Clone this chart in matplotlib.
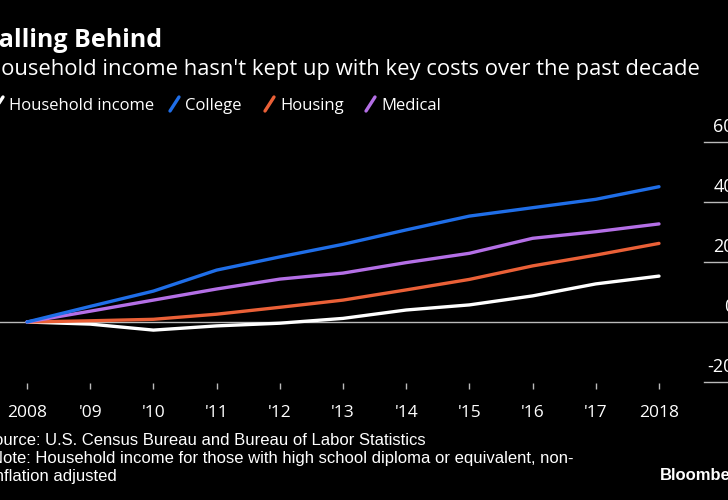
import matplotlib
matplotlib.use("Agg")
import matplotlib.pyplot as plt
import matplotlib.transforms as mtransforms

years = [2008, 2009, 2010, 2011, 2012, 2013, 2014, 2015, 2016, 2017, 2018]
tick_labels = ["2008", "'09", "'10", "'11", "'12", "'13", "'14", "'15", "'16", "'17", "2018"]
household = [0, -0.7, -2.7, -1.3, -0.4, 1.2, 4.0, 5.7, 8.7, 12.7, 15.3]
college = [0, 5.2, 10.3, 17.3, 21.7, 25.9, 30.7, 35.3, 38.1, 40.9, 45.1]
housing = [0, 0.4, 0.9, 2.6, 4.9, 7.3, 10.7, 14.2, 18.7, 22.3, 26.2]
medical = [0, 3.6, 7.3, 11.0, 14.3, 16.3, 19.8, 22.9, 27.9, 30.1, 32.7]
yticks = [-20, 0, 20, 40, 60]

series_names = ["Household income", "College", "Housing", "Medical"]
colors = ["#ffffff", "#1f6ee8", "#ea6037", "#b46fe6"]

W, H = 728, 500
fig = plt.figure(figsize=(W / 100, H / 100), dpi=100, facecolor="black")
FONT = ["Open Sans", "DejaVu Sans"]
NARROW = ["Liberation Sans", "DejaVu Sans"]

def fx(x):
    return x / W

def fy(y):
    return 1 - y / H

ax = fig.add_axes([0, fy(383), 1, (383 - 120) / H])
ax.set_facecolor("black")
px_per_year = (659 - 27) / 10
ax.set_xlim(2008 - 27 / px_per_year, 2018 + (W - 659) / px_per_year)
ax.set_ylim((322 - 383) / 3, (322 - 120) / 3)
for s in ax.spines.values():
    s.set_visible(False)

for vals, c in [(household, colors[0]), (housing, colors[2]), (medical, colors[3]), (college, colors[1])]:
    ax.plot(years, vals, color=c, lw=2.4, solid_capstyle="round", solid_joinstyle="round", zorder=3)

ax.axhline(0, color="#bbbbbb", lw=1.0, zorder=2)

ax.set_xticks(years)
ax.set_xticklabels(tick_labels, fontsize=12.5, color="white", family=FONT)
ax.tick_params(axis="x", length=4, width=1, color="#bbbbbb", pad=12)
ax.set_yticks([])

trans = mtransforms.blended_transform_factory(ax.transAxes, ax.transData)
for v in yticks:
    if v != 0:
        ax.plot([704 / W, 1.0], [v, v], transform=trans, color="#bbbbbb", lw=1.0, clip_on=False)
    ax.annotate(f"{v}", xy=(734 / W, v), xycoords=trans, xytext=(0, 4), textcoords="offset points",
                ha="right", va="bottom", fontsize=13, color="white", family=FONT, annotation_clip=False)

# titles
fig.text(fx(-15), fy(47), "Falling Behind", fontsize=18, fontweight="bold", color="white", family=FONT)
fig.text(fx(-15), fy(75), "Household income hasn't kept up with key costs over the past decade",
         fontsize=15.8, color="white", family=FONT)

# legend
leg_x = [-6, 170, 265, 366]
for name, c, x in zip(series_names, colors, leg_x):
    fig.add_artist(plt.Line2D([fx(x), fx(x + 9)], [fy(111), fy(97)], color=c, lw=2.4,
                              transform=fig.transFigure, solid_capstyle="round"))
    fig.text(fx(x + 15), fy(110), name, fontsize=12, color="white", family=FONT)

# footnotes
fig.text(fx(-17), fy(445), "Source: U.S. Census Bureau and Bureau of Labor Statistics",
         fontsize=12, color="white", family=NARROW)
fig.text(fx(-9), fy(463), "Note: Household income for those with high school diploma or equivalent, non-",
         fontsize=12, color="white", family=NARROW)
fig.text(fx(-9), fy(481), "inflation adjusted", fontsize=12, color="white", family=NARROW)
fig.text(fx(660), fy(480), "Bloomberg", fontsize=12, fontweight="bold", color="white", family=NARROW)

fig.savefig("out.png", dpi=100, facecolor="black")
